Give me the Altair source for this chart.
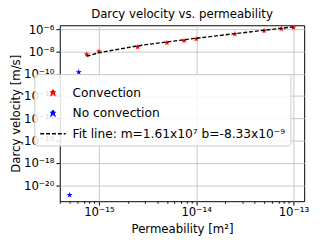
import math
import altair as alt
import pandas as pd

# ---- data ----
conv_k = [7.5e-16, 1e-15, 2.5e-15, 5e-15, 7.5e-15, 1e-14, 2.5e-14, 5e-14, 7.5e-14, 1e-13]
conv_v = [5.5e-9, 1.0e-8, 2.5e-8, 6.0e-8, 9.0e-8, 1.3e-7, 3.7e-7, 7.0e-7, 1.07e-6, 1.4e-6]
noconv_k = [6.2e-16, 5.0e-16]
noconv_v = [1.4e-10, 1.35e-21]
fit_v = [3.7e-9, 7.8e-9, 3.2e-8, 7.2e-8, 1.12e-7, 1.53e-7, 3.94e-7, 7.97e-7, 1.2e-6, 1.6e-6]
series_names = ["Convection", "No convection", "Fit line: m=1.61x10⁷ b=-8.33x10⁻⁹"]
series_colors = ["#ff0000", "#0000ff", "#000000"]
x_major_exps = [-15, -14, -13]
y_major_exps = [-20, -18, -16, -14, -12, -10, -8, -6]
x_domain = [3.96e-16, 1.29e-13]
y_domain = [3.7e-22, 2.24e-6]

FONT = "DejaVu Sans"
SYM = 676  # symbol box: 26 px wide


def star_path(r_out, r_in):
    pts = []
    for i in range(10):
        r = r_out if i % 2 == 0 else r_in
        a = -math.pi / 2 + i * math.pi / 5
        pts.append(f"{r * math.cos(a):.3f},{r * math.sin(a):.3f}")
    return "M" + "L".join(pts) + "Z"


STAR = star_path(0.24, 0.1)
series_shapes = [STAR, STAR, "M-1,0L1,0"]

sup = str.maketrans("-0123456789", "⁻⁰¹²³⁴⁵⁶⁷⁸⁹")
is_major = "abs(log(datum.value)/LN10 - round(log(datum.value)/LN10)) < 0.001"


def label_expr(exps):
    parts = [f"round(log(datum.value)/LN10) == {e} ? '10{str(e).translate(sup)}'" for e in exps]
    return f"!({is_major}) ? '' : " + " : ".join(parts) + " : ''"


x_minor = [d * 10.0 ** e for e in (-16, -15, -14) for d in range(2, 10)]
x_minor = [v for v in x_minor if x_domain[0] <= v <= x_domain[1]]
x_ticks = sorted([10.0 ** e for e in x_major_exps] + x_minor)

pts = pd.DataFrame({
    "k": conv_k + noconv_k,
    "v": conv_v + noconv_v,
    "series": [series_names[0]] * len(conv_k) + [series_names[1]] * len(noconv_k),
})
fit = pd.DataFrame({"k": conv_k, "v": fit_v, "series": [series_names[2]] * len(conv_k)})

xscale = alt.Scale(type="log", domain=x_domain, nice=False)
yscale = alt.Scale(type="log", domain=y_domain, nice=False)
cscale = alt.Scale(domain=series_names, range=series_colors)
shscale = alt.Scale(domain=series_names, range=series_shapes)

x_axis = alt.Axis(
    values=x_ticks, labelExpr=label_expr(x_major_exps),
    title="Permeability [m²]", grid=True, gridColor="#c8c8c8", gridWidth=1,
    gridOpacity={"condition": {"test": is_major, "value": 1}, "value": 0},
    tickSize={"condition": {"test": is_major, "value": 4}, "value": 2},
    tickColor="#000", labelPadding=2, labelFont=FONT, labelFontSize=12,
    labelColor="#000", titleFont=FONT, titleFontSize=12, titleFontWeight="normal",
    titleColor="#000", titlePadding=6, domain=False, labelFlush=False, labelOverlap=False,
)
y_axis = alt.Axis(
    values=[10.0 ** e for e in y_major_exps], labelExpr=label_expr(y_major_exps),
    title="Darcy velocity [m/s]", grid=True, gridColor="#c8c8c8", gridWidth=1,
    tickSize=4, tickColor="#000", labelPadding=2, labelFont=FONT, labelFontSize=12,
    labelColor="#000", titleFont=FONT, titleFontSize=12, titleFontWeight="normal",
    titleColor="#000", titlePadding=1, domain=False, labelFlush=False, labelOverlap=False,
)

legend = alt.Legend(
    title=None, orient="none", legendX=-26, legendY=50, direction="vertical",
    labelFont=FONT, labelFontSize=12.5, labelColor="#000", labelLimit=400,
    labelOffset=6, padding=5, rowPadding=-1.5, symbolStrokeWidth=1.4, symbolOpacity=1,
    symbolSize=SYM, symbolDash=[4, 2],
    fillColor="rgba(255,255,255,0.85)", strokeColor="#cccccc", cornerRadius=3,
)

points = alt.Chart(pts).mark_point(filled=True, opacity=1, size=SYM).encode(
    x=alt.X("k:Q", scale=xscale, axis=x_axis),
    y=alt.Y("v:Q", scale=yscale, axis=y_axis),
    color=alt.Color("series:N", scale=cscale, legend=legend),
    shape=alt.Shape("series:N", scale=shscale, legend=legend),
)

line = alt.Chart(fit).mark_line(strokeWidth=1.4, strokeDash=[4, 2]).encode(
    x=alt.X("k:Q", scale=xscale, axis=x_axis),
    y=alt.Y("v:Q", scale=yscale, axis=y_axis),
    color=alt.Color("series:N", scale=cscale, legend=legend),
)

chart = alt.layer(points, line).properties(
    width=250, height=180,
    padding={"left": 53, "top": 15, "right": 8, "bottom": 36},
    autosize=alt.AutoSizeParams(type="none"),
    title=alt.TitleParams("Darcy velocity vs. permeability", font=FONT, fontSize=12,
                          fontWeight="normal", color="#000", offset=2, anchor="middle"),
).configure_view(stroke="#000", strokeWidth=1)

chart.save("out.html", embed_options={"renderer": "svg", "actions": False})
